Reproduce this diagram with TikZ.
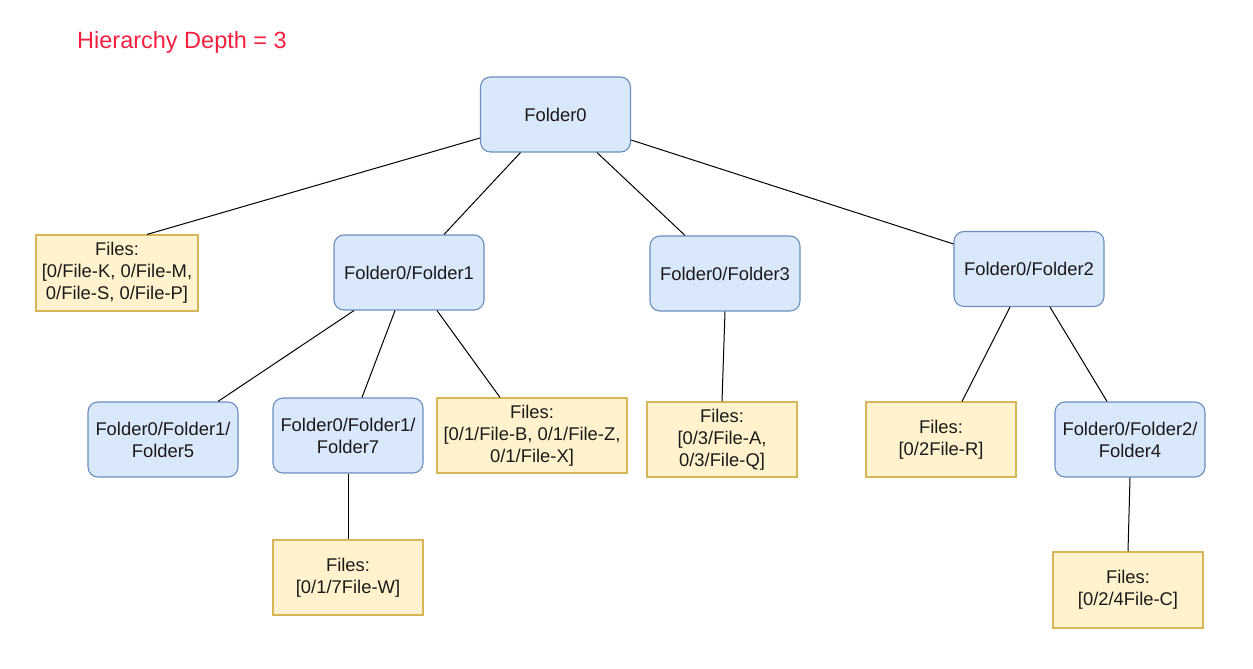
\documentclass[tikz,border=0pt]{standalone}
\usepackage{fontspec}
\setmainfont{Liberation Sans}
\definecolor{bfill}{HTML}{DAE8FC}
\definecolor{bdraw}{HTML}{6C8EBF}
\definecolor{yfill}{HTML}{FFF2CC}
\definecolor{ydraw}{HTML}{D6B656}
\definecolor{ttl}{HTML}{F5203F}
\definecolor{txt}{HTML}{1A1A1A}
\tikzset{
  folderbox/.style={draw=bdraw, fill=bfill, line width=1.1pt, rounded corners=10pt,
    minimum width=150pt, minimum height=75pt, inner sep=0pt, align=center,
    font=\fontsize{18.4}{22}\selectfont, text=txt},
  filesbox/.style={draw=ydraw, fill=yfill, line width=1.1pt,
    minimum width=150pt, minimum height=75pt, inner sep=0pt, align=center,
    font=\fontsize{18.4}{22}\selectfont, text=txt},
  conn/.style={draw=black, line width=1pt}
}
\begin{document}
\begin{tikzpicture}[x=1pt,y=-1pt]
\useasboundingbox (0,0) rectangle (1253,669);
\node[anchor=west, text=ttl, font=\fontsize{23.5}{28}\selectfont, inner sep=0pt] (title) at (77,42) {Hierarchy Depth = 3};
\node[folderbox] (f0) at (555.5,114.5) {Folder0};
\node[filesbox, minimum width=162pt, minimum height=76pt] (fk) at (117,273) {Files:\\\relax [0/File-K, 0/File-M,\\0/File-S, 0/File-P]};
\node[folderbox] (f1) at (409,272.5) {Folder0/Folder1};
\node[folderbox] (f3) at (725,273.5) {Folder0/Folder3};
\node[folderbox] (f2) at (1029,269) {Folder0/Folder2};
\node[folderbox] (f5) at (163,439.5) {Folder0/Folder1/\\Folder5};
\node[folderbox] (f7) at (348,435.5) {Folder0/Folder1/\\Folder7};
\node[filesbox, minimum width=190pt] (fb) at (532,435.5) {Files:\\\relax [0/1/File-B, 0/1/File-Z,\\0/1/File-X]};
\node[filesbox] (fa) at (722,439.5) {Files:\\\relax [0/3/File-A,\\0/3/File-Q]};
\node[filesbox] (fr) at (941,439.5) {Files:\\\relax [0/2File-R]};
\node[folderbox] (f4) at (1130,439.5) {Folder0/Folder2/\\Folder4};
\node[filesbox] (fw) at (348,577.5) {Files:\\\relax [0/1/7File-W]};
\node[filesbox, minimum height=76pt] (fc) at (1128,590) {Files:\\\relax [0/2/4File-C]};
\draw[conn] ([yshift=-23.5pt]f0.west) -- ([xshift=30pt]fk.north);
\draw[conn] ([xshift=-35pt]f0.south) -- ([xshift=35pt]f1.north);
\draw[conn] ([xshift=41.5pt]f0.south) -- ([xshift=-40pt]f3.north);
\draw[conn] ([yshift=-25.5pt]f0.east) -- ([yshift=25pt]f2.west);
\draw[conn] ([xshift=-55pt]f1.south) -- ([xshift=55pt]f5.north);
\draw[conn] ([xshift=-14pt]f1.south) -- ([xshift=14pt]f7.north);
\draw[conn] ([xshift=28pt]f1.south) -- ([xshift=-32pt]fb.north);
\draw[conn] (f3.south) -- (fa.north);
\draw[conn] ([xshift=-19pt]f2.south) -- ([xshift=21pt]fr.north);
\draw[conn] ([xshift=21pt]f2.south) -- ([xshift=-23pt]f4.north);
\draw[conn] (f7.south) -- (fw.north);
\draw[conn] (f4.south) -- (fc.north);
\end{tikzpicture}
\end{document}
